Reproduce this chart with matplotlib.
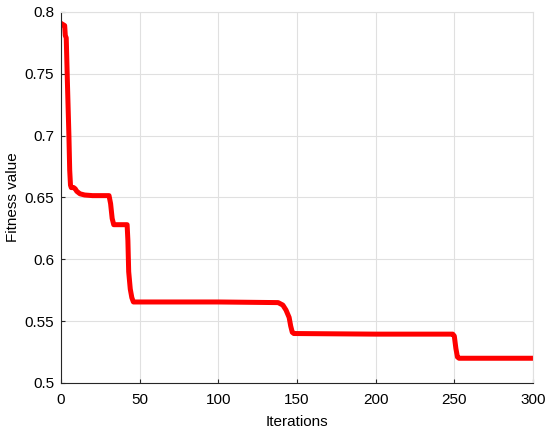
import matplotlib
matplotlib.use("Agg")
import matplotlib.pyplot as plt

plt.rcParams['font.family'] = ['Liberation Sans', 'DejaVu Sans']

iterations = [1, 2.3, 2.7, 3.3, 4, 5, 5.5, 6, 6.5, 8, 9, 10, 12, 15, 20, 30.5, 31.5, 32.5, 33.5,
              42, 42.5, 43, 44, 45, 46, 100, 138, 141, 143, 145, 146, 147, 148, 200, 249,
              250, 251, 252, 253, 300]
fitness = [0.790, 0.789, 0.781, 0.779, 0.745, 0.700, 0.672, 0.660, 0.658, 0.658, 0.657, 0.655,
           0.653, 0.652, 0.6515, 0.6515, 0.645, 0.633, 0.628,
           0.628, 0.615, 0.590, 0.576, 0.569, 0.5655, 0.5655, 0.565, 0.563, 0.559, 0.553,
           0.546, 0.541, 0.540, 0.5395, 0.5395,
           0.538, 0.528, 0.521, 0.520, 0.520]

xticks = [0, 50, 100, 150, 200, 250, 300]
yticks = [0.5, 0.55, 0.6, 0.65, 0.7, 0.75, 0.8]
yticklabels = ['0.5', '0.55', '0.6', '0.65', '0.7', '0.75', '0.8']

fig = plt.figure(figsize=(5.5, 4.37), dpi=100)
ax = fig.add_axes([0.111, 0.1236, 0.858, 0.849])
ax.plot(iterations, fitness, color='#ff0000', linewidth=3.6, solid_joinstyle='round')
ax.set_xlim(0, 300)
ax.set_ylim(0.5, 0.8)
ax.set_xticks(xticks)
ax.set_yticks(yticks)
ax.set_yticklabels(yticklabels)
ax.grid(True, color='#e0e0e0', linewidth=0.8)
ax.set_axisbelow(True)
ax.tick_params(direction='in', labelsize=11, length=3, color='#262626', labelcolor='#000000')
ax.tick_params(axis='x', pad=7)
ax.tick_params(axis='y', pad=5)
for s in ['left', 'bottom']:
    ax.spines[s].set_color('#262626')
    ax.spines[s].set_linewidth(0.8)
for s in ['top', 'right']:
    ax.spines[s].set_color('#e0e0e0')
    ax.spines[s].set_linewidth(0.8)
ax.set_xlabel('Iterations', fontsize=11, labelpad=6)
ax.set_ylabel('Fitness value', fontsize=11, labelpad=3)
fig.savefig('out.png', dpi=100)
